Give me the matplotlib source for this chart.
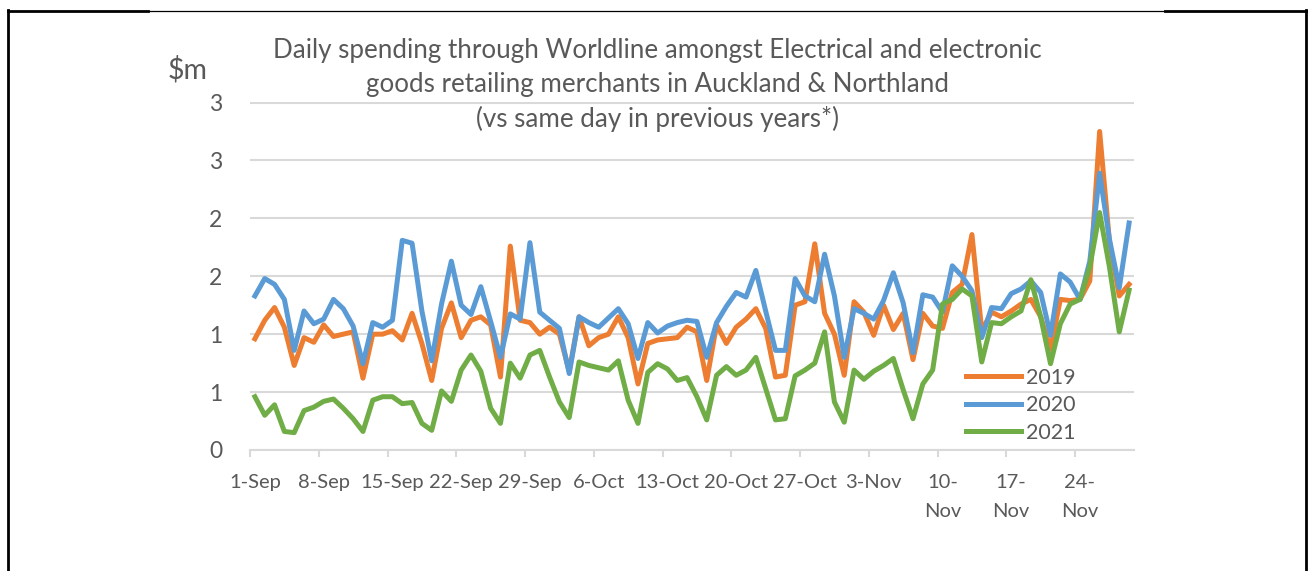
import numpy as np
import matplotlib
matplotlib.use("Agg")
import matplotlib.pyplot as plt
from matplotlib.lines import Line2D

plt.rcParams['font.family'] = ['Lato', 'DejaVu Sans']

# daily spend, $m, 1 Sep .. 29 Nov (same day in each year)
v2019 = [0.96, 1.12, 1.23, 1.06, 0.73, 0.97, 0.93, 1.08, 0.98, 1.00,
         1.02, 0.62, 1.00, 1.00, 1.03, 0.95, 1.18, 0.92, 0.60, 1.05,
         1.27, 0.97, 1.12, 1.15, 1.08, 0.63, 1.76, 1.12, 1.10, 1.00,
         1.06, 1.00, 0.68, 1.15, 0.90, 0.97, 1.00, 1.15, 0.97, 0.57,
         0.92, 0.95, 0.96, 0.97, 1.06, 1.02, 0.60, 1.08, 0.92, 1.06,
         1.13, 1.22, 1.05, 0.63, 0.645, 1.25, 1.28, 1.78, 1.18, 1.00,
         0.645, 1.28, 1.19, 0.99, 1.25, 1.04, 1.18, 0.78, 1.18, 1.07,
         1.05, 1.36, 1.43, 1.86, 1.03, 1.19, 1.15, 1.20, 1.26, 1.30,
         1.15, 0.87, 1.30, 1.29, 1.30, 1.46, 2.75, 1.80, 1.33, 1.43]
v2020 = [1.33, 1.48, 1.43, 1.30, 0.86, 1.20, 1.09, 1.13, 1.30, 1.22,
         1.07, 0.745, 1.10, 1.06, 1.12, 1.81, 1.785, 1.20, 0.77, 1.26,
         1.63, 1.25, 1.17, 1.41, 1.11, 0.80, 1.175, 1.13, 1.79, 1.19,
         1.12, 1.05, 0.66, 1.15, 1.10, 1.06, 1.14, 1.22, 1.09, 0.79,
         1.10, 1.01, 1.07, 1.10, 1.12, 1.11, 0.80, 1.10, 1.24, 1.36,
         1.32, 1.55, 1.20, 0.86, 0.86, 1.48, 1.33, 1.28, 1.69, 1.33,
         0.80, 1.22, 1.18, 1.13, 1.29, 1.53, 1.27, 0.84, 1.34, 1.32,
         1.19, 1.59, 1.50, 1.375, 0.97, 1.23, 1.22, 1.35, 1.39, 1.46,
         1.36, 0.99, 1.52, 1.45, 1.30, 1.63, 2.39, 1.82, 1.40, 1.96]
v2021 = [0.46, 0.30, 0.39, 0.16, 0.15, 0.34, 0.37, 0.42, 0.44, 0.36,
         0.27, 0.16, 0.43, 0.46, 0.46, 0.40, 0.41, 0.23, 0.17, 0.51,
         0.42, 0.69, 0.82, 0.68, 0.36, 0.23, 0.75, 0.62, 0.82, 0.86,
         0.63, 0.415, 0.28, 0.76, 0.73, 0.71, 0.69, 0.77, 0.43, 0.23,
         0.67, 0.745, 0.70, 0.60, 0.625, 0.46, 0.26, 0.645, 0.72, 0.645,
         0.69, 0.80, 0.53, 0.26, 0.27, 0.64, 0.69, 0.75, 1.02, 0.415,
         0.24, 0.69, 0.61, 0.68, 0.73, 0.79, 0.52, 0.27, 0.57, 0.69,
         1.26, 1.30, 1.39, 1.33, 0.76, 1.10, 1.09, 1.15, 1.20, 1.47,
         1.15, 0.745, 1.09, 1.26, 1.30, 1.58, 2.05, 1.58, 1.02, 1.38]

years = ['2019', '2020', '2021']
colors = ['#ED7D31', '#5B9BD5', '#70AD47']

tick_days = [0, 7, 14, 21, 28, 35, 42, 49, 56, 63, 70, 77, 84]
tick_labels = ['1-Sep', '8-Sep', '15-Sep', '22-Sep', '29-Sep', '6-Oct', '13-Oct',
               '20-Oct', '27-Oct', '3-Nov', '10-\nNov', '17-\nNov', '24-\nNov']
y_ticks = [0, 0.5, 1, 1.5, 2, 2.5, 3]
# Excel's "0" number format rounds the half steps
y_labels = ['0', '1', '1', '2', '2', '3', '3']

grey = '#595959'
grid = '#D9D9D9'

W, H = 1309, 571
fig = plt.figure(figsize=(W / 100, H / 100), dpi=100)
ax = fig.add_axes([250 / W, 1 - 450 / H, (1134 - 250) / W, (450 - 102.5) / H])

days = np.arange(len(v2019))
for vals, yr, c in zip([v2019, v2020, v2021], years, colors):
    ax.plot(days, vals, color=c, lw=3.6, label=yr, solid_joinstyle='round')

ax.set_xlim(-0.5, len(days) - 0.5)
ax.set_ylim(0, 3)
ax.set_yticks(y_ticks)
ax.set_yticklabels(y_labels)
ax.yaxis.grid(True, color=grid, lw=1.5)
ax.set_axisbelow(True)
for s in ['top', 'right', 'left']:
    ax.spines[s].set_visible(False)
ax.spines['bottom'].set_color(grid)
ax.spines['bottom'].set_linewidth(1.5)

ax.set_xticks(tick_days)
ax.set_xticklabels(tick_labels, linespacing=1.9)
ax.set_xticks(np.arange(-0.5, len(days), 7), minor=True)
ax.tick_params(axis='x', which='major', length=0, pad=17, labelsize=14.5, labelcolor=grey)
ax.tick_params(axis='x', which='minor', length=5, width=1.5, color=grid, direction='out')
ax.tick_params(axis='y', length=0, pad=20, labelsize=16.5, labelcolor=grey)

leg = ax.legend(loc='lower left', bbox_to_anchor=((966 - 250) / (1134 - 250), (450 - 443) / (450 - 102.5)),
                frameon=False, fontsize=15.5, handlelength=2.55, handletextpad=0.25,
                labelspacing=0.36, borderaxespad=0, borderpad=0)
for t in leg.get_texts():
    t.set_color(grey)

fig.text(657 / W, 1 - 85 / H,
         'Daily spending through Worldline amongst Electrical and electronic\n'
         'goods retailing merchants in Auckland & Northland\n'
         '(vs same day in previous years*)',
         ha='center', va='center', fontsize=18.7, color=grey, linespacing=1.45)
fig.text(188 / W, 1 - 70 / H, '$m', ha='center', va='center', fontsize=20.5, color=grey)

# frame around the chart
fig.add_artist(Line2D([8 / W, 148 / W], [1 - 11 / H] * 2, color='black', lw=2))
fig.add_artist(Line2D([148 / W, 1165 / W], [1 - 11 / H] * 2, color='black', lw=0.9))
fig.add_artist(Line2D([1165 / W, 1306 / W], [1 - 11 / H] * 2, color='black', lw=2))
fig.add_artist(Line2D([8 / W] * 2, [1 - 10 / H, 0], color='black', lw=2))
fig.add_artist(Line2D([1306 / W] * 2, [1 - 10 / H, 0], color='black', lw=2))

fig.savefig('out.png', dpi=100)
